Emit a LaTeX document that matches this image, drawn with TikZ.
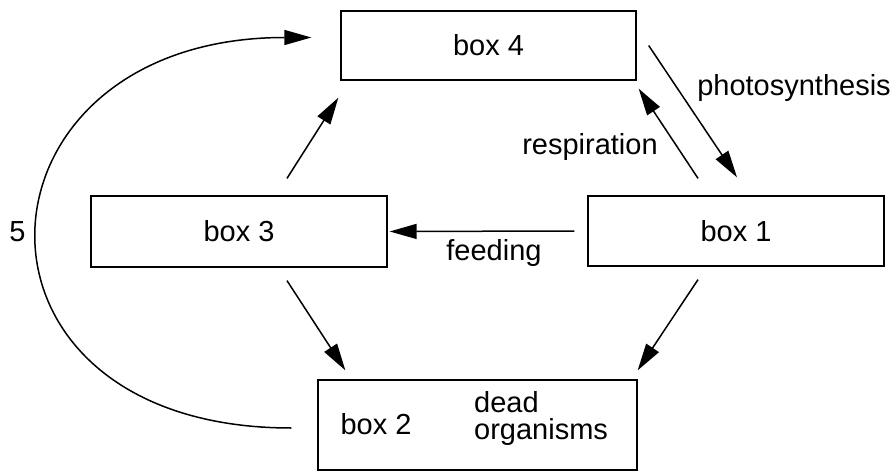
\documentclass[tikz,border=0pt]{standalone}
\usepackage{fontspec}
\setmainfont{Liberation Sans}
\usetikzlibrary{arrows.meta, positioning, calc}

\begin{document}
\begin{tikzpicture}
   [
      x=1pt, y=-1pt,
      % Style for the boxes of the cycle
      box/.style={rectangle, draw, line width=1.3pt, inner sep=0pt, font=\fontsize{29}{27}\selectfont},
      % Style for the arrows between the boxes
      flow/.style={line width=1.5pt, -{Triangle[length=27pt, width=15pt]}},
      % Style for the texts next to the arrows
      label node/.style={inner sep=0pt, font=\fontsize{29}{27}\selectfont}
   ]
    \useasboundingbox (0,0) rectangle (896,473);

    % =======================================================
    % The four boxes
    % =======================================================
    \node[box, minimum width=295pt, minimum height=69pt] (box4) at (488.5,45.5) {box 4};
    \node[box, minimum width=296pt, minimum height=71pt] (box3) at (239,231.5) {box 3};
    \node[box, minimum width=296pt, minimum height=70pt] (box1) at (736,231) {box 1};
    \node[box, minimum width=319pt, minimum height=90pt] (box2) at (477.5,425) {};

    % Texts inside box 2
    \node[label node] (box2 name) at (376,424) {box 2};
    \node[label node, anchor=west, align=left] (box2 text) at (474,418) {dead\\organisms};

    % =======================================================
    % Arrows between the boxes
    % =======================================================
    \draw[flow] ([xshift=48pt, yshift=17pt]box3.north) -- ([xshift=-2pt, yshift=-17pt]box4.south west);
    \draw[flow] ([xshift=-38pt, yshift=17pt]box1.north) -- ([xshift=2pt, yshift=-8pt]box4.south east);
    \draw[flow] ([xshift=12pt]box4.east) -- ([xshift=1pt, yshift=18pt]box1.north);
    \draw[flow] ([xshift=-13pt]box1.west) -- ([xshift=2pt]box3.east);
    \draw[flow] ([xshift=48pt, yshift=-13pt]box3.south) -- ([xshift=28pt, yshift=9pt]box2.north west);
    \draw[flow] ([xshift=-38pt, yshift=-13pt]box1.south) -- ([yshift=9pt]box2.north east);

    % Long way back from box 2 to box 4
    \draw[flow] ([xshift=-26pt, yshift=-3pt]box2.west)
       .. controls +(-351,0) and +(-351,0) .. ([xshift=-29pt, yshift=8pt]box4.west);

    % Labels of the arrows
    \node[label node] (photo) at (794,88) {photosynthesis};
    \node[label node] (resp) at (590,147) {respiration};
    \node[label node] (feed) at (494,253) {feeding};
    \node[label node] (five) at (17.5,232) {5};

\end{tikzpicture}
\end{document}
